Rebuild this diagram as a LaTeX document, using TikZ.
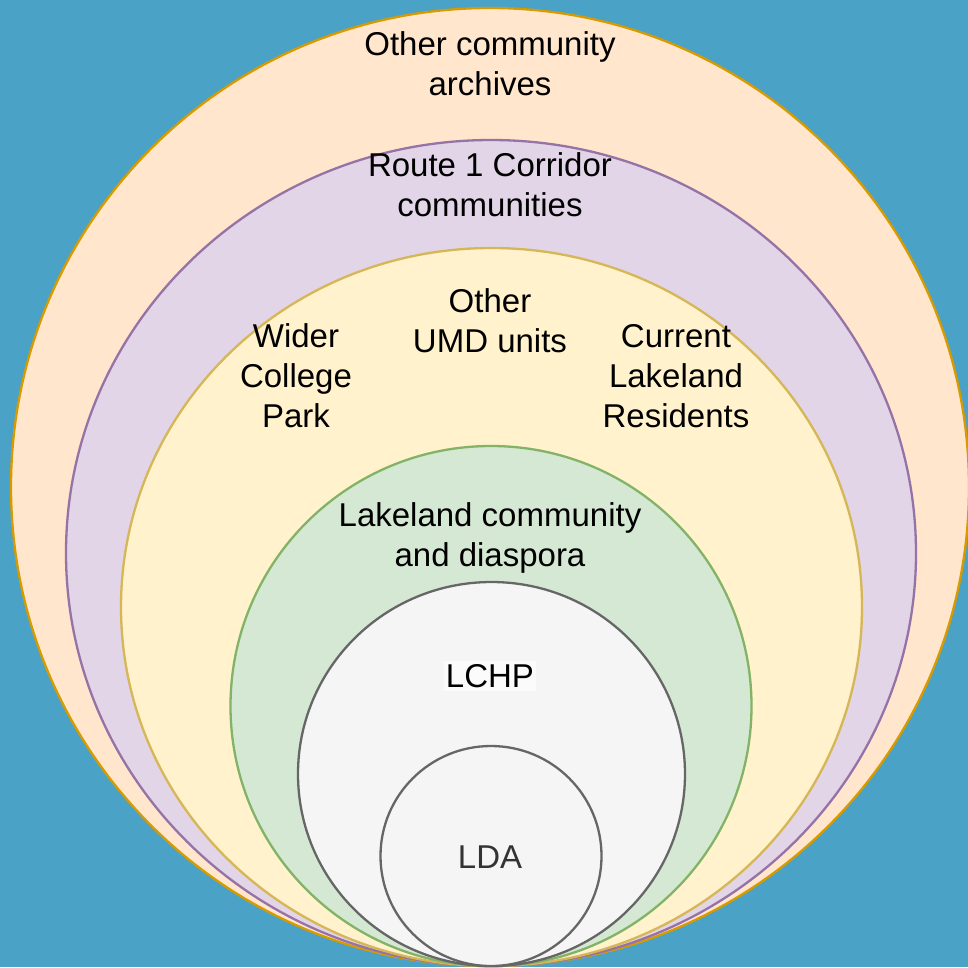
\documentclass[tikz,border=0pt]{standalone}
\usepackage{fontspec}
\setmainfont{Liberation Sans}
\usetikzlibrary{shapes.geometric}
\definecolor{bgblue}{HTML}{4AA2C7}
\definecolor{oFill}{HTML}{FFE6CC}\definecolor{oLine}{HTML}{D79B00}
\definecolor{pFill}{HTML}{E1D5E7}\definecolor{pLine}{HTML}{9673A6}
\definecolor{yFill}{HTML}{FFF2CC}\definecolor{yLine}{HTML}{D6B656}
\definecolor{gFill}{HTML}{D5E8D4}\definecolor{gLine}{HTML}{82B366}
\definecolor{wFill}{HTML}{F5F5F5}\definecolor{wLine}{HTML}{666666}
\definecolor{dtext}{HTML}{333333}
\tikzset{
  ring/.style={ellipse, inner sep=0pt, line width=2.3pt},
  lbl/.style={align=center, font=\fontsize{33}{40}\selectfont, inner sep=0pt}
}
\begin{document}
\begin{tikzpicture}[x=1pt,y=-1pt]
\fill[bgblue] (0,0) rectangle (968,967);
\useasboundingbox (0,0) rectangle (968,967);
\node[ring, fill=oFill, draw=oLine, minimum width=958pt, minimum height=958pt] (orange) at (490,487) {};
\node[ring, fill=pFill, draw=pLine, minimum width=850pt, minimum height=826pt] (purple) at (491,553) {};
\node[ring, fill=yFill, draw=yLine, minimum width=741pt, minimum height=718pt] (yellow) at (491.5,607) {};
\node[ring, fill=gFill, draw=gLine, minimum width=521pt, minimum height=520pt] (green) at (491,706) {};
\node[ring, fill=wFill, draw=wLine, minimum width=387pt, minimum height=384pt] (lchp) at (491.5,774) {};
\node[ring, fill=wFill, draw=wLine, minimum width=221pt, minimum height=220pt] (lda) at (491,856) {};

\node[lbl] (t1) at (490,64) {Other community\\archives};
\node[lbl] (t2) at (490,185) {Route 1 Corridor\\communities};
\node[lbl] (t3) at (490,321) {Other\\UMD units};
\node[lbl] (t4) at (296,376) {Wider\\College\\Park};
\node[lbl] (t5) at (676,376) {Current\\Lakeland\\Residents};
\node[lbl] (t6) at (490,538) {Lakeland community\\and diaspora};
\node[lbl, fill=white!60!wFill, inner xsep=2pt, inner ysep=3pt] (t7) at (490,676) {LCHP};
\node[lbl, text=dtext] (t8) at (490,857) {LDA};
\end{tikzpicture}
\end{document}
